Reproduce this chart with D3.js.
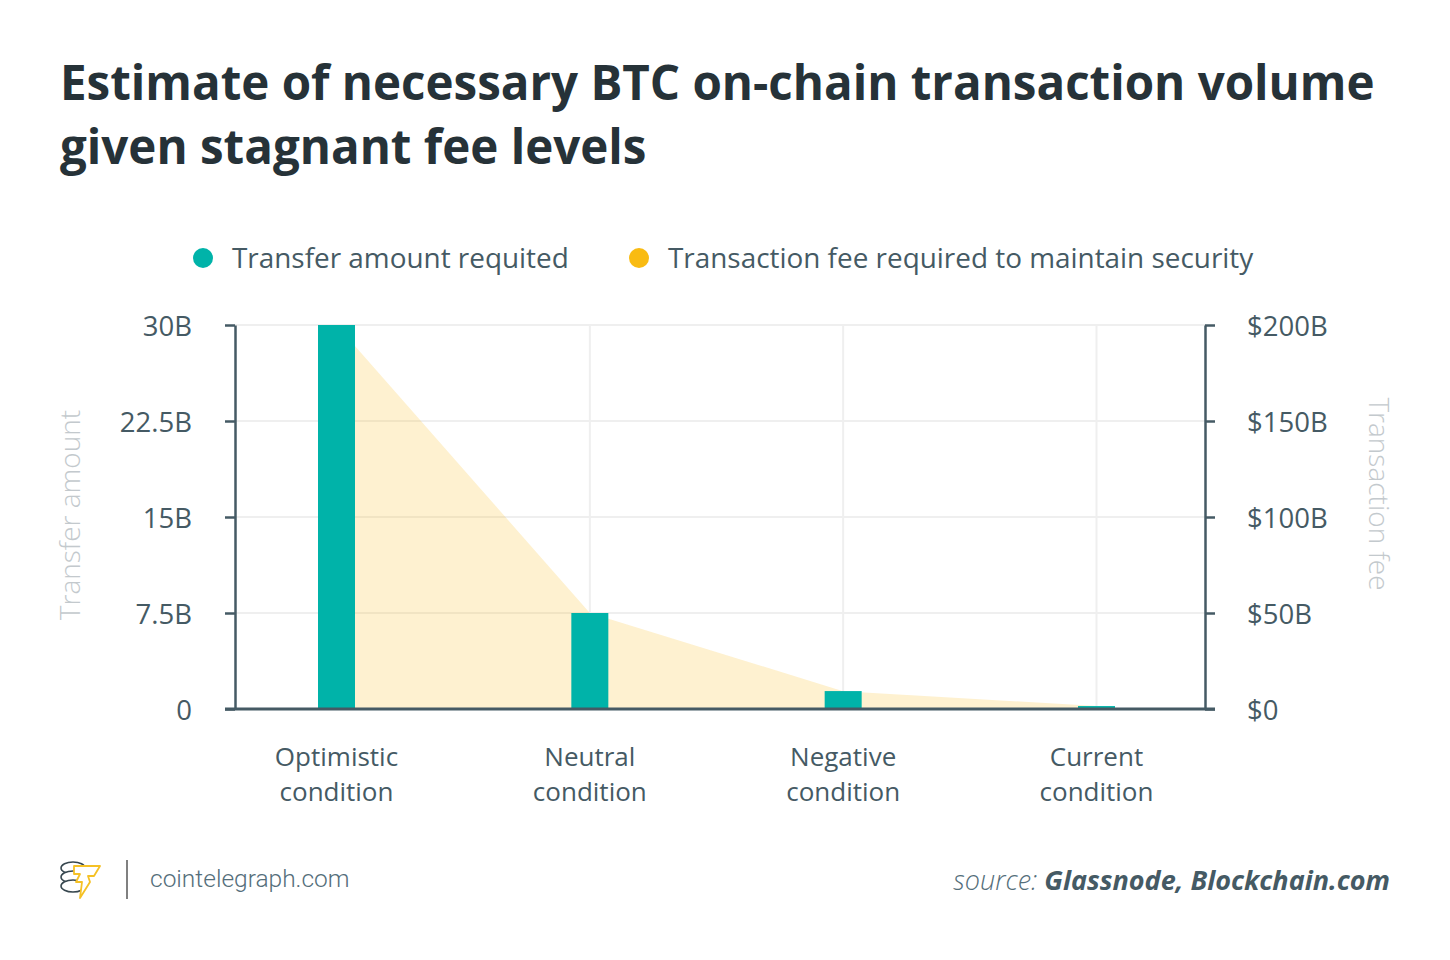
<!DOCTYPE html>
<html>
<head>
<meta charset="utf-8">
<script src="https://cdn.jsdelivr.net/npm/d3@7"></script>
<style>
  body { margin: 0; background: #fff; }
  text { font-family: "Open Sans", sans-serif; }
</style>
</head>
<body>
<div id="chart"></div>
<script>
// Data
const categories = ["Optimistic condition", "Neutral condition", "Negative condition", "Current condition"];
const categoryLines = [["Optimistic", "condition"], ["Neutral", "condition"], ["Negative", "condition"], ["Current", "condition"]];
const transferAmount = [30, 7.5, 1.4, 0.23];      // billions
const transactionFee = [200, 50, 9.3, 1.5];       // $ billions
const leftTicks = [0, 7.5, 15, 22.5, 30];
const rightTicks = [0, 50, 100, 150, 200];
const leftTickLabels = ["0", "7.5B", "15B", "22.5B", "30B"];
const rightTickLabels = ["$0", "$50B", "$100B", "$150B", "$200B"];

const W = 1450, H = 960;
const plot = { left: 235, right: 1205, top: 325, bottom: 709 };

const barColor = "#00b3a9";
const feeColor = "#f9bb12";
const axisColor = "#455a64";
const textColor = "#455a64";
const gridColor = "#efefef";

const svg = d3.select("#chart").append("svg")
    .attr("width", W)
    .attr("height", H);

// Title
const title = svg.append("text")
    .attr("x", 60)
    .attr("y", 100)
    .attr("fill", "#263238")
    .style("font-size", "47.5px")
    .style("font-weight", 700);
title.append("tspan").attr("x", 60).attr("dy", 0).text("Estimate of necessary BTC on-chain transaction volume");
title.append("tspan").attr("x", 60).attr("dy", 64).text("given stagnant fee levels");

// Legend
const legendItems = [
    { label: "Transfer amount requited", color: barColor, x: 203 },
    { label: "Transaction fee required to maintain security", color: feeColor, x: 639 }
];
legendItems.forEach(item => {
    svg.append("circle")
        .attr("cx", item.x)
        .attr("cy", 258)
        .attr("r", 10)
        .attr("fill", item.color);
    svg.append("text")
        .attr("x", item.x + 29)
        .attr("y", 268)
        .attr("fill", textColor)
        .style("font-size", "27.9px")
        .text(item.label);
});

// Scales
const x = d3.scalePoint()
    .domain(categories)
    .range([336.5, 1096.5]);
const yLeft = d3.scaleLinear().domain([0, 30]).range([plot.bottom, plot.top]);
const yRight = d3.scaleLinear().domain([0, 200]).range([plot.bottom, plot.top]);

// Gridlines
svg.append("g")
    .selectAll("line")
    .data(leftTicks)
    .enter().append("line")
    .attr("x1", plot.left)
    .attr("x2", plot.right)
    .attr("y1", d => yLeft(d))
    .attr("y2", d => yLeft(d))
    .attr("stroke", gridColor)
    .attr("stroke-width", 2);

svg.append("g")
    .selectAll("line")
    .data(categories)
    .enter().append("line")
    .attr("x1", d => x(d))
    .attr("x2", d => x(d))
    .attr("y1", plot.top)
    .attr("y2", plot.bottom)
    .attr("stroke", gridColor)
    .attr("stroke-width", 2);

// Fee area
const area = d3.area()
    .x((d, i) => x(categories[i]))
    .y0(plot.bottom)
    .y1(d => yRight(d));

svg.append("path")
    .datum(transactionFee)
    .attr("d", area)
    .attr("fill", feeColor)
    .attr("fill-opacity", 0.2);

// Bars
const barWidth = 37;
svg.append("g")
    .selectAll("rect")
    .data(transferAmount)
    .enter().append("rect")
    .attr("x", (d, i) => x(categories[i]) - barWidth / 2)
    .attr("y", d => yLeft(d))
    .attr("width", barWidth)
    .attr("height", d => plot.bottom - yLeft(d))
    .attr("fill", barColor);

// Axes
const leftAxis = d3.axisLeft(yLeft)
    .tickValues(leftTicks)
    .tickFormat((d, i) => leftTickLabels[i])
    .tickSize(10)
    .tickSizeOuter(0)
    .tickPadding(33);

const rightAxis = d3.axisRight(yRight)
    .tickValues(rightTicks)
    .tickFormat((d, i) => rightTickLabels[i])
    .tickSize(10)
    .tickSizeOuter(0)
    .tickPadding(32);

const gl = svg.append("g")
    .attr("transform", "translate(" + plot.left + ",0)")
    .call(leftAxis);
const gr = svg.append("g")
    .attr("transform", "translate(" + plot.right + ",0)")
    .call(rightAxis);

[gl, gr].forEach(g => {
    g.select(".domain").attr("stroke", axisColor).attr("stroke-width", 2.5);
    g.selectAll(".tick line").attr("stroke", axisColor).attr("stroke-width", 2.5);
    g.selectAll(".tick text")
        .attr("fill", textColor)
        .attr("dy", "0.39em")
        .style("font-size", "27.5px")
        .style("font-family", "'Open Sans', sans-serif");
});

// Baseline
svg.append("line")
    .attr("x1", plot.left - 10)
    .attr("x2", plot.right + 10)
    .attr("y1", plot.bottom)
    .attr("y2", plot.bottom)
    .attr("stroke", axisColor)
    .attr("stroke-width", 3);

// Category labels
categoryLines.forEach((lines, i) => {
    const t = svg.append("text")
        .attr("x", x(categories[i]))
        .attr("y", 766)
        .attr("text-anchor", "middle")
        .attr("fill", textColor)
        .style("font-size", "26px");
    lines.forEach((l, j) => {
        t.append("tspan")
            .attr("x", x(categories[i]))
            .attr("dy", j === 0 ? 0 : 35)
            .text(l);
    });
});

// Axis titles
svg.append("text")
    .attr("transform", "translate(80,515) rotate(-90)")
    .attr("text-anchor", "middle")
    .attr("fill", "#c3c9cd")
    .style("font-size", "28px")
    .style("font-weight", 300)
    .text("Transfer amount");

svg.append("text")
    .attr("transform", "translate(1369,494) rotate(90)")
    .attr("text-anchor", "middle")
    .attr("fill", "#c3c9cd")
    .style("font-size", "28px")
    .style("font-weight", 300)
    .text("Transaction fee");

// Footer: logo
const logo = svg.append("g").attr("transform", "translate(60,860)");
[0, 9, 18].forEach(dy => {
    logo.append("ellipse")
        .attr("cx", 13).attr("cy", 8 + dy)
        .attr("rx", 12).attr("ry", 6)
        .attr("fill", "#fff")
        .attr("stroke", "#37474f")
        .attr("stroke-width", 1.5);
});
logo.append("path")
    .attr("d", "M14,6 L40,6 L34,16 L28,16 L30,22 L20,38 L22,22 L16,22 L20,14 L14,14 Z")
    .attr("fill", "#fff")
    .attr("stroke", "#f5c125")
    .attr("stroke-width", 1.8)
    .attr("stroke-linejoin", "round");

svg.append("line")
    .attr("x1", 127).attr("x2", 127)
    .attr("y1", 860).attr("y2", 899)
    .attr("stroke", "#808080")
    .attr("stroke-width", 2);

svg.append("text")
    .attr("x", 150)
    .attr("y", 887)
    .attr("fill", "#546e7a")
    .style("font-family", "Roboto, sans-serif")
    .style("font-size", "24.5px")
    .style("font-weight", 300)
    .text("cointelegraph.com");

// Source
const src = svg.append("text")
    .attr("x", 1390)
    .attr("y", 890)
    .attr("text-anchor", "end")
    .style("font-size", "27px")
    .style("font-style", "italic");
src.append("tspan").attr("fill", "#546e7a").style("font-weight", 300).text("source: ");
src.append("tspan").attr("fill", "#455a64").style("font-weight", 700).text("Glassnode, Blockchain.com");
</script>
</body>
</html>
